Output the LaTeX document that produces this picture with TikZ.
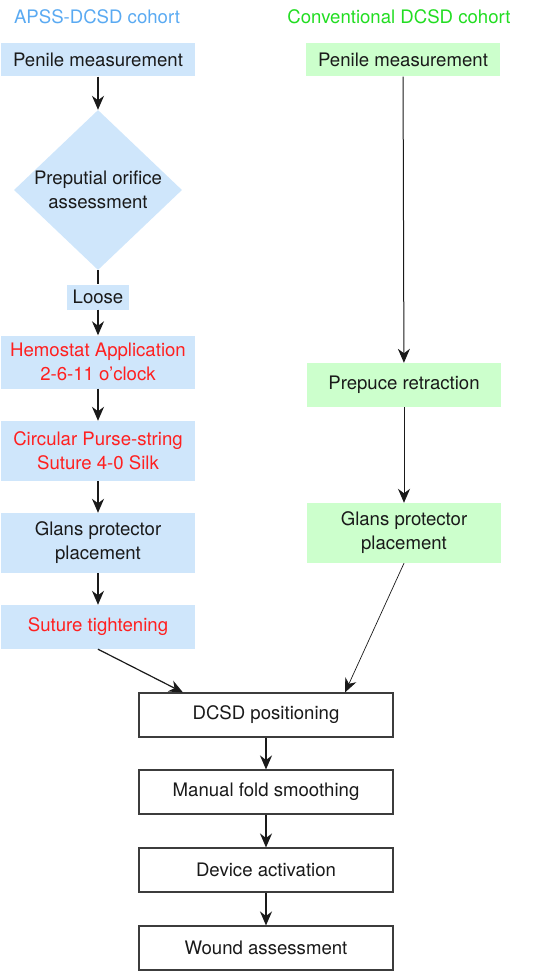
\documentclass[tikz,border=0pt]{standalone}
\usepackage{fontspec}
\setmainfont{TeX Gyre Heros}
\usetikzlibrary{shapes.geometric,arrows.meta}
\definecolor{apssfill}{HTML}{CFE6FB}
\definecolor{convfill}{HTML}{CCFFCC}
\definecolor{apsstitle}{HTML}{5AAAF2}
\definecolor{convtitle}{HTML}{22DD22}
\definecolor{stepred}{HTML}{FF2020}
\definecolor{flowink}{HTML}{1A1A1A}

\begin{document}
\begin{tikzpicture}[x=1pt, y=-1pt, >={Stealth[length=14pt,width=12pt,inset=4.5pt]},
    every node/.style={flowink, font=\fontsize{18.6}{24}\selectfont, align=center, inner sep=0pt},
    apssbox/.style={fill=apssfill, minimum width=194pt},
    convbox/.style={fill=convfill, minimum width=194pt},
    commonbox/.style={draw=flowink!85, line width=1.1pt, fill=white,
                      minimum width=254pt, minimum height=44pt},
    redtext/.style={text=stepred},
    flow/.style={flowink, line width=1.2pt, ->}]

  \useasboundingbox (0,0) rectangle (551,971);

  %% 兩組的標題
  \node[text=apsstitle] (apsstitle) at (97,17) {APSS-DCSD cohort};
  \node[text=convtitle] (convtitle) at (399,17) {Conventional DCSD cohort};

  %% ---- 左欄: APSS-DCSD ----
  \node[apssbox, minimum height=33pt] (penL) at (98,60) {Penile measurement};
  \node[diamond, fill=apssfill, minimum width=168pt, minimum height=160pt] (orifice) at (98,190) {};
  \node (orificetext) at (orifice) {Preputial orifice\\assessment};
  \node[fill=apssfill, minimum width=62pt, minimum height=25pt] (loose) at (98,297) {Loose};
  \node[apssbox, redtext, minimum height=53pt] (hemostat) at (98,362) {Hemostat Application\\2-6-11 o'clock};
  \node[apssbox, redtext, minimum height=60pt] (purse) at (98,451) {Circular Purse-string\\Suture 4-0 Silk};
  \node[apssbox, minimum height=60pt] (glansL) at (98,543) {Glans protector\\placement};
  \node[apssbox, redtext, minimum height=44pt] (tighten) at (98,627) {Suture tightening};

  %% ---- 右欄: 傳統 DCSD ----
  \node[convbox, minimum height=33pt] (penR) at (403,60) {Penile measurement};
  \node[convbox, minimum height=44pt] (retract) at (404,385) {Prepuce retraction};
  \node[convbox, minimum height=60pt] (glansR) at (404,533) {Glans protector\\placement};

  %% ---- 共同步驟 ----
  \node[commonbox] (position) at (266,715) {DCSD positioning};
  \node[commonbox] (smooth) at (266,792) {Manual fold smoothing};
  \node[commonbox] (activate) at (266,870) {Device activation};
  \node[commonbox] (wound) at (266,948) {Wound assessment};

  \path (position.north) ++(-83,0) coordinate (leftin);
  \path (position.north) ++(79,0) coordinate (rightin);

  %% 連線
  \draw[flow] (penL) -- (orifice.north);
  \draw[flowink, line width=1.2pt] (orifice.south) -- (loose.north);
  \draw[flow] (loose) -- (hemostat);
  \draw[flow] (hemostat) -- (purse);
  \draw[flow] (purse) -- (glansL);
  \draw[flow] (glansL) -- (tighten);
  \draw[flow] (tighten.south) -- (leftin);

  \draw[flowink, line width=1pt, ->] (penR) -- (retract);
  \draw[flowink, line width=1pt, ->] (retract) -- (glansR);
  \draw[flowink, line width=0.7pt, ->] (glansR.south) -- (rightin);

  \draw[flow] (position) -- (smooth);
  \draw[flow] (smooth) -- (activate);
  \draw[flow] (activate) -- (wound);

\end{tikzpicture}
\end{document}
